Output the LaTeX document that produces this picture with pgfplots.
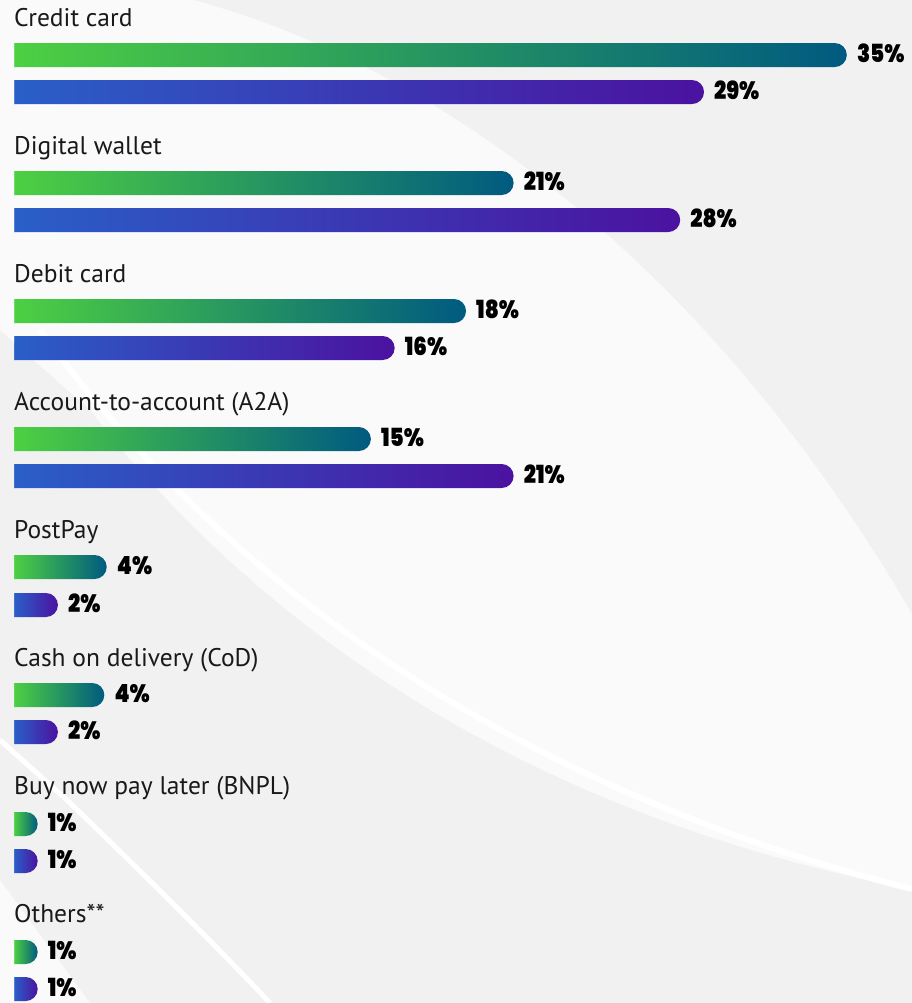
\documentclass[border=0pt]{standalone}
\usepackage{fontspec}
\usepackage{pgfplots}
\pgfplotsset{compat=1.18}
\setmainfont{PT Sans}
\newfontfamily\valfont{Poppins Black}[FakeStretch=0.86]

\definecolor{gA}{HTML}{4DD042}
\definecolor{gB}{HTML}{005A80}
\definecolor{bA}{HTML}{2A5FC8}
\definecolor{bB}{HTML}{4B12A0}
\definecolor{bg}{HTML}{F1F1F1}
\definecolor{band}{HTML}{FAFAFA}

% background swooshes, in pixel units (y downwards)
\newcommand\swooshes{%
  \fill[bg] (0,0) rectangle (912,1003);
  \fill[band] (0,0) -- (193,0) .. controls (420,60) and (700,250) .. (912,614)
    -- (912,889) .. controls (600,830) and (300,680) .. (90,410) -- (0,330) -- cycle;
  \draw[white, line width=6pt] (40,330) .. controls (150,480) and (400,760) .. (912,889);
  \draw[white, line width=5pt] (0,740) -- (67,800) .. controls (150,880) and (230,960) .. (270,1003);
  \fill[band] (0,880) -- (90,1003) -- (0,1003) -- cycle;
}

% each bar starts 12px left of the visible edge (its rounded start is hidden),
% so its gradient is made to begin where the bar becomes visible
\newcommand\mkshade[4]{%
  \pgfmathsetmacro\shX{25+600/(12+#2*23.8)}%
  \edef\temp{\noexpand\pgfdeclarehorizontalshading{#1}{100bp}{%
    color(0bp)=(#3); color(\shX bp)=(#3); color(75bp)=(#4); color(100bp)=(#4)}}%
  \temp}

% one bar each: #1 = row (pixel), #2 = value, #3 = printed label
\newcommand\gbar[3]{\mkshade{gs#1}{#2}{gA}{gB}%
  \addplot[greenbar, shading=gs#1] coordinates {(#2,#1) [#3]};}
\newcommand\bbar[3]{\mkshade{bs#1}{#2}{bA}{bB}%
  \addplot[bluebar, shading=bs#1] coordinates {(#2,#1) [#3]};}

\begin{document}
\begin{tikzpicture}
\useasboundingbox (0,0) rectangle (912pt,-1003pt);
\begin{scope}[x=1pt,y=-1pt]
  \clip (0,0) rectangle (912,1003);
  \swooshes
\end{scope}

\begin{axis}[
  at={(2pt,0pt)}, anchor=north west,
  scale only axis,
  width=910pt, height=1003pt,
  xmin=0, xmax=38.24,
  ymin=0, ymax=1003,
  y dir=reverse,
  axis lines=none,
  xtick=\empty, ytick=\empty,
  x filter/.expression={x+0.5},
  point meta=explicit symbolic,
  nodes near coords={\pgfplotspointmeta\%},
  every node near coord/.append style={
    font=\valfont\fontsize{25}{25}\selectfont,
    anchor=west, xshift=10pt, yshift=1.5pt, inner sep=0pt, text=black},
  greenbar/.style={xbar, bar width=24, bar shift=0pt, draw=none,
    rounded corners=12pt},
  bluebar/.style={xbar, bar width=24, bar shift=0pt, draw=none,
    rounded corners=12pt},
]
\gbar{55}{35}{35}
\bbar{92}{29}{29}
\gbar{183}{21}{21}
\bbar{220}{28}{28}
\gbar{311}{19}{18}
\bbar{348}{16}{16}
\gbar{439}{15}{15}
\bbar{476}{21}{21}
\gbar{567}{3.9}{4}
\bbar{605}{1.85}{2}
\gbar{695}{3.8}{4}
\bbar{732}{1.85}{2}
\gbar{824}{1}{1}
\bbar{861}{1}{1}
\gbar{952}{1}{1}
\bbar{989}{1}{1}
\end{axis}

% the strip left of the bars is painted again, hiding their rounded starts
\begin{scope}[x=1pt,y=-1pt]
  \clip (0,0) rectangle (14,1003);
  \swooshes
\end{scope}

\begin{scope}[x=1pt,y=-1pt, every node/.style={anchor=base west, inner sep=0pt,
    font=\fontsize{25.5}{25.5}\selectfont, text=black!90}]
\node at (14,26.5) {Credit card};
\node at (14,154.5) {Digital wallet};
\node at (14,282.5) {Debit card};
\node at (14,410.5) {Account-to-account (A2A)};
\node at (14,538.5) {PostPay};
\node at (14,666.5) {Cash on delivery (CoD)};
\node at (14,794.5) {Buy now pay later (BNPL)};
\node at (14,922.5) {Others**};
\end{scope}
\end{tikzpicture}
\end{document}
